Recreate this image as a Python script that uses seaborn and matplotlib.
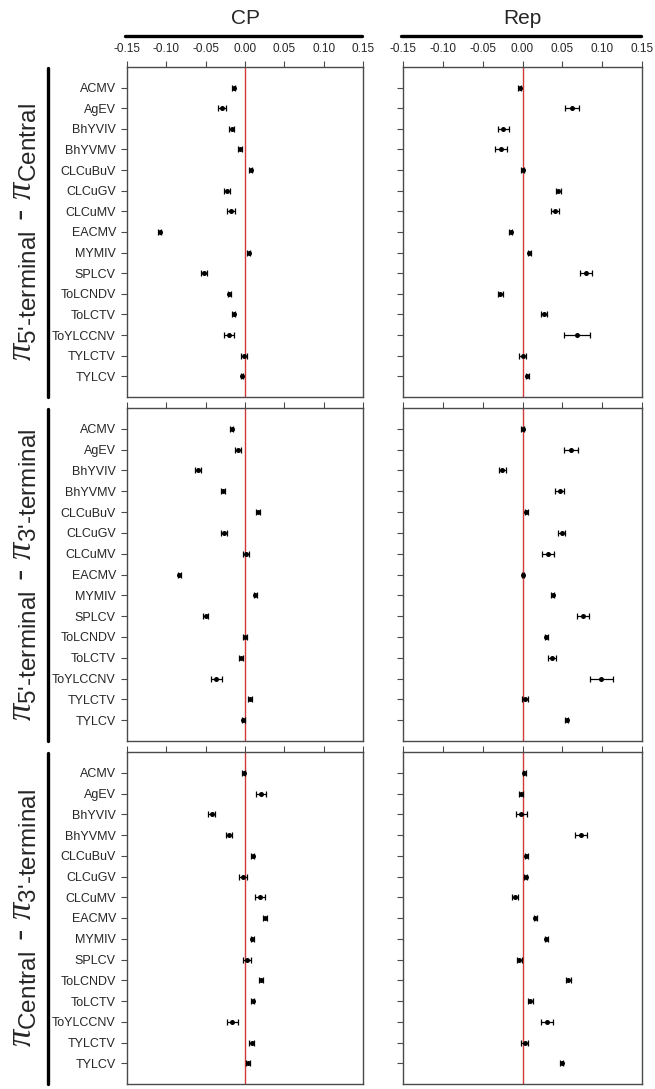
import numpy as np
import pandas as pd
import matplotlib
matplotlib.use("Agg")
import matplotlib.pyplot as plt
from matplotlib.lines import Line2D
import seaborn as sns

viruses = ["ACMV", "AgEV", "BhYVIV", "BhYVMV", "CLCuBuV", "CLCuGV", "CLCuMV",
           "EACMV", "MYMIV", "SPLCV", "ToLCNDV", "ToLCTV", "ToYLCCNV", "TYLCTV", "TYLCV"]

# Row 1: pi(5'-terminal) - pi(Central)
cp_5c_mean = [-0.0144, -0.029, -0.017, -0.0064, 0.0072, -0.023, -0.018, -0.1085, 0.0047,
              -0.052, -0.020, -0.0144, -0.020, -0.0013, -0.004]
cp_5c_err = [0.002, 0.005, 0.003, 0.003, 0.002, 0.004, 0.005, 0.002, 0.002,
             0.004, 0.002, 0.002, 0.0066, 0.004, 0.0015]
rep_5c_mean = [-0.0034, 0.062, -0.024, -0.027, 0.000, 0.045, 0.041, -0.0147, 0.0084,
               0.080, -0.0277, 0.027, 0.0685, 0.000, 0.006]
rep_5c_err = [0.002, 0.0084, 0.007, 0.0075, 0.002, 0.0035, 0.005, 0.002, 0.002,
              0.0075, 0.003, 0.004, 0.0164, 0.005, 0.002]

# Row 2: pi(5'-terminal) - pi(3'-terminal)
cp_53_mean = [-0.017, -0.0085, -0.060, -0.028, 0.0165, -0.027, 0.001, -0.0835, 0.013,
              -0.050, 0.000, -0.005, -0.0365, 0.0064, -0.002]
cp_53_err = [0.002, 0.004, 0.004, 0.003, 0.002, 0.004, 0.004, 0.002, 0.002,
             0.003, 0.002, 0.002, 0.007, 0.003, 0.0015]
rep_53_mean = [0.000, 0.061, -0.0256, 0.0466, 0.0046, 0.049, 0.032, 0.001, 0.038,
               0.0756, 0.030, 0.0365, 0.099, 0.0034, 0.0555]
rep_53_err = [0.002, 0.0085, 0.0045, 0.0055, 0.002, 0.004, 0.007, 0.0015, 0.002,
              0.0075, 0.002, 0.005, 0.0147, 0.004, 0.002]

# Row 3: pi(Central) - pi(3'-terminal)
cp_c3_mean = [-0.0017, 0.0208, -0.0424, -0.0203, 0.010, -0.003, 0.0195, 0.0254, 0.009,
              0.003, 0.020, 0.0097, -0.016, 0.0085, 0.0038]
cp_c3_err = [0.002, 0.0065, 0.0045, 0.004, 0.002, 0.005, 0.0065, 0.003, 0.002,
             0.005, 0.0025, 0.002, 0.0075, 0.0035, 0.002]
rep_c3_mean = [0.0025, -0.002, -0.0013, 0.0735, 0.005, 0.004, -0.0092, 0.016, 0.030,
               -0.004, 0.0575, 0.0097, 0.0307, 0.003, 0.049]
rep_c3_err = [0.002, 0.002, 0.0073, 0.0073, 0.002, 0.002, 0.004, 0.002, 0.002,
              0.003, 0.003, 0.003, 0.0075, 0.0045, 0.002]

col_titles = ["CP", "Rep"]
row_titles = [r"$\pi_{\text{5'-terminal}}$ - $\pi_{\text{Central}}$",
              r"$\pi_{\text{5'-terminal}}$ - $\pi_{\text{3'-terminal}}$",
              r"$\pi_{\text{Central}}$ - $\pi_{\text{3'-terminal}}$"]
x_ticks = [-0.15, -0.10, -0.05, 0.00, 0.05, 0.10, 0.15]

panels = [[(cp_5c_mean, cp_5c_err), (rep_5c_mean, rep_5c_err)],
          [(cp_53_mean, cp_53_err), (rep_53_mean, rep_53_err)],
          [(cp_c3_mean, cp_c3_err), (rep_c3_mean, rep_c3_err)]]

sns.set_style("white")
plt.rcParams["font.family"] = ["Liberation Sans", "DejaVu Sans"]
plt.rcParams["mathtext.fontset"] = "custom"
plt.rcParams["mathtext.rm"] = "Liberation Sans"
plt.rcParams["mathtext.it"] = "Liberation Serif:italic"
plt.rcParams["axes.unicode_minus"] = False

W, H = 655, 1089
fig = plt.figure(figsize=(W / 100, H / 100), dpi=100)

col_px = [(127, 363), (403, 642)]
row_px = [(67, 397), (408, 741), (752, 1084)]

spine_col = "#4a4a4a"
for r, (top, bot) in enumerate(row_px):
    for c, (left, right) in enumerate(col_px):
        ax = fig.add_axes([left / W, 1 - bot / H, (right - left) / W, (bot - top) / H])
        mean, err = panels[r][c]
        df = pd.DataFrame({"virus": viruses, "value": mean, "err": err})
        ax.axvline(0, color="#d03a3a", lw=1.0, zorder=1)
        ax.errorbar(df["value"], np.arange(len(viruses)), xerr=df["err"], fmt="none",
                    ecolor="black", elinewidth=0.9, capsize=2.5, capthick=0.9, zorder=2)
        sns.pointplot(data=df, x="value", y="virus", order=viruses, color="black",
                      linestyle="none", errorbar=None, markersize=3.6, markeredgewidth=0,
                      ax=ax, zorder=3)
        ax.set_xlim(-0.15, 0.15)
        ax.set_ylim(15, -1)
        ax.set_xlabel("")
        ax.set_ylabel("")
        ax.xaxis.tick_top()
        ax.set_xticks(x_ticks)
        ax.set_xticklabels([f"{t:.2f}" for t in x_ticks])
        ax.tick_params(axis="x", which="both", top=True, bottom=False, direction="out",
                       length=4, width=0.8, color=spine_col, labelsize=8.5, pad=5,
                       labeltop=(r == 0), labelbottom=False)
        ax.tick_params(axis="y", left=True, direction="out", length=4, width=0.8,
                       color=spine_col, labelsize=9, pad=4, labelleft=(c == 0))
        for s in ax.spines.values():
            s.set_color(spine_col)
            s.set_linewidth(1.0)

# Column headers with thick rules
for c, (left, right) in enumerate(col_px):
    fig.text((left + right) / 2 / W, 1 - 19 / H, col_titles[c], ha="center", va="center",
             fontsize=15)
    fig.add_artist(Line2D([(left - 2) / W, (right - 1) / W], [1 - 36 / H, 1 - 36 / H],
                          transform=fig.transFigure, color="black", lw=2.4))

# Row headers with thick vertical rules
for r, (top, bot) in enumerate(row_px):
    fig.add_artist(Line2D([48 / W, 48 / W], [1 - (top + 1) / H, 1 - bot / H],
                          transform=fig.transFigure, color="black", lw=2.4))
    fig.text(23 / W, 1 - (top + bot) / 2 / H, row_titles[r], rotation=90, ha="center",
             va="center", fontsize=25)

fig.savefig("out.png", dpi=100)
